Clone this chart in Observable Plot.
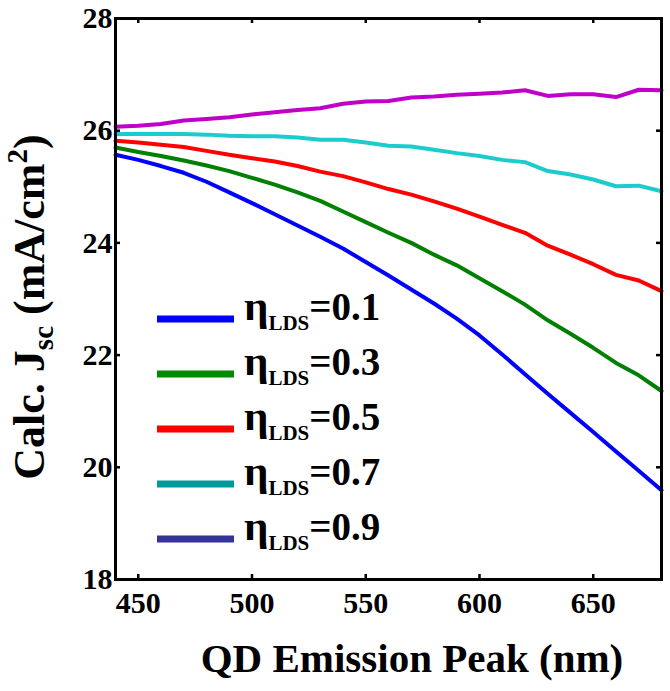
<!DOCTYPE html>
<html><head><meta charset="utf-8">
<script src="https://cdn.jsdelivr.net/npm/d3@7"></script>
<script src="https://cdn.jsdelivr.net/npm/@observablehq/plot@0.6"></script>
<style>body{margin:0;background:#fff} svg{display:block}</style>
</head><body><div id="chart"></div>
<script>
// QD emission peak (nm)
const wavelengths = [440,450,460,470,480,490,500,510,520,530,540,550,560,570,580,590,600,610,620,630,640,650,660,670,680];
// Calculated Jsc (mA/cm^2) for each eta_LDS
const eta01 = [25.57,25.48,25.37,25.25,25.09,24.90,24.71,24.51,24.31,24.11,23.90,23.66,23.42,23.17,22.92,22.65,22.35,22.01,21.66,21.31,20.97,20.63,20.28,19.94,19.59];
const eta03 = [25.70,25.62,25.55,25.47,25.38,25.28,25.16,25.04,24.90,24.75,24.56,24.37,24.18,24.00,23.79,23.60,23.37,23.14,22.90,22.62,22.38,22.13,21.86,21.64,21.36];
const eta05 = [25.82,25.79,25.75,25.71,25.64,25.57,25.51,25.45,25.37,25.27,25.19,25.08,24.96,24.86,24.74,24.61,24.47,24.32,24.18,23.95,23.79,23.62,23.43,23.33,23.14];
const eta07 = [25.94,25.94,25.94,25.94,25.93,25.91,25.90,25.90,25.88,25.84,25.84,25.79,25.73,25.72,25.66,25.60,25.55,25.48,25.44,25.28,25.22,25.13,25.01,25.02,24.92];
const eta09 = [26.07,26.09,26.12,26.18,26.21,26.24,26.29,26.33,26.37,26.40,26.48,26.52,26.53,26.59,26.61,26.64,26.66,26.68,26.72,26.62,26.65,26.65,26.60,26.73,26.72];

const seriesNames = ["0.1","0.3","0.5","0.7","0.9"];
const seriesValues = [eta01, eta03, eta05, eta07, eta09];
const lineColors = ["#0000ff","#008000","#ff0000","#1ccccc","#c000c8"];
const legendColors = ["#0000ff","#008a00","#ff0000","#009a9a","#333399"];
const xTicks = [450,500,550,600,650];
const yTicks = [18,20,22,24,26,28];

const rows = [];
seriesValues.forEach((vals, i) => vals.forEach((v, j) => rows.push({x: wavelengths[j], y: v, s: seriesNames[i]})));

const FONT = "'Liberation Serif','Times New Roman',serif";
const W = 670, H = 691, ML = 115, MR = 9, MT = 18, MB = 112;
const TICK = 5;

const plot = Plot.plot({
  width: W, height: H,
  marginLeft: ML, marginRight: MR, marginTop: MT, marginBottom: MB,
  style: {fontFamily: FONT, fontWeight: "bold", fontSize: "30px", background: "white", color: "black", overflow: "visible"},
  x: {domain: [440, 680], label: null},
  y: {domain: [18, 28], label: null},
  color: {domain: seriesNames, range: lineColors},
  marks: [
    Plot.line(rows, {x: "x", y: "y", z: "s", stroke: "s", strokeWidth: 4, strokeLinejoin: "round"}),
    Plot.ruleX(xTicks, {insetTop: (H - MT - MB) - TICK, stroke: "black", strokeWidth: 2.5}),
    Plot.ruleX(xTicks, {insetBottom: (H - MT - MB) - TICK, stroke: "black", strokeWidth: 2.5}),
    Plot.ruleY(yTicks, {insetRight: (W - ML - MR) - TICK, stroke: "black", strokeWidth: 2.5}),
    Plot.ruleY(yTicks, {insetLeft: (W - ML - MR) - TICK, stroke: "black", strokeWidth: 2.5}),
    Plot.frame({stroke: "black", strokeWidth: 3}),
    Plot.axisX(xTicks, {tickSize: 0, tickPadding: 12, fontSize: 30, fontWeight: "bold", tickFormat: d => String(d), label: null}),
    Plot.axisY(yTicks, {tickSize: 0, tickPadding: 3, fontSize: 30, fontWeight: "bold", tickFormat: d => String(d), label: null})
  ]
});
document.getElementById("chart").appendChild(plot);

const svg = d3.select(plot);
// x label
svg.append("text")
  .attr("x", 412).attr("y", 672)
  .attr("text-anchor", "middle")
  .attr("font-family", FONT).attr("font-weight", "bold").attr("font-size", 41)
  .attr("fill", "black")
  .text("QD Emission Peak (nm)");

// y label
const yl = svg.append("text")
  .attr("transform", "translate(44,307) rotate(-90)")
  .attr("text-anchor", "middle")
  .attr("font-family", FONT).attr("font-weight", "bold").attr("font-size", 44)
  .attr("fill", "black");
yl.append("tspan").text("Calc. J");
yl.append("tspan").attr("font-size", 29).attr("dy", 9).text("sc");
yl.append("tspan").attr("dy", -9).text(" (mA/cm");
yl.append("tspan").attr("font-size", 29).attr("dy", -17).text("2");
yl.append("tspan").attr("dy", 17).text(")");

// legend
const lg = svg.append("g").attr("font-family", FONT).attr("font-weight", "bold").attr("fill", "black").attr("text-anchor", "start");
seriesNames.forEach((name, i) => {
  const yy = 319 + 55 * i;
  lg.append("line").attr("x1", 157).attr("x2", 234).attr("y1", yy).attr("y2", yy)
    .attr("stroke", legendColors[i]).attr("stroke-width", 7);
  const t = lg.append("text").attr("x", 244).attr("y", yy + 1).attr("font-size", 39).attr("text-anchor", "start");
  t.append("tspan").attr("font-size", 43).text("η");
  t.append("tspan").attr("font-size", 21).attr("dy", 10).text("LDS");
  t.append("tspan").attr("dy", -10).text("=" + name);
});
</script>
</body></html>
